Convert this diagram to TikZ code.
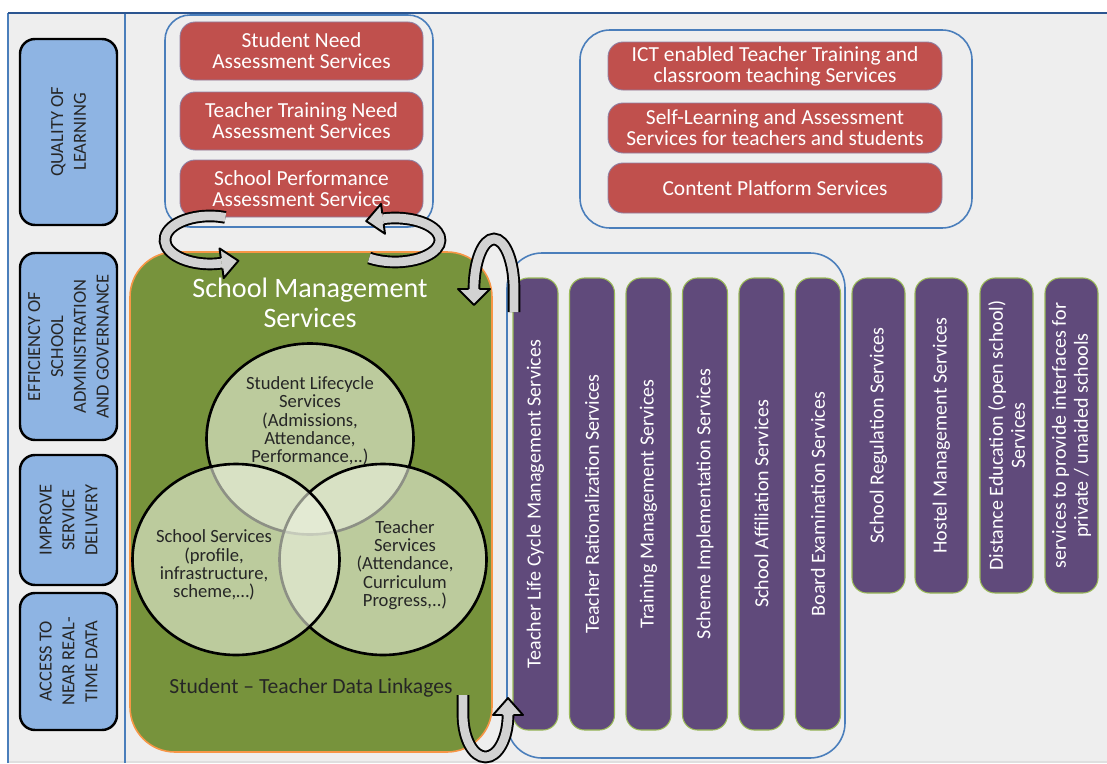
\documentclass[tikz,border=0pt]{standalone}
\usepackage{fontspec}
\setmainfont{Carlito}
\usetikzlibrary{positioning,shapes.geometric}

\definecolor{goalblue}{HTML}{8EB4E3}
\definecolor{svcred}{HTML}{C0504D}
\definecolor{framblue}{HTML}{4A7EBB}
\definecolor{topblue}{HTML}{2B5590}
\definecolor{mgmtgreen}{HTML}{77933C}
\definecolor{mgmtorange}{HTML}{F79646}
\definecolor{vennfill}{HTML}{EBF1DE}
\definecolor{svcpurple}{HTML}{604A7B}
\definecolor{colborder}{HTML}{9BBB59}
\definecolor{bggray}{HTML}{EEEEEE}
\definecolor{txtdark}{HTML}{262626}

\begin{document}
\begin{tikzpicture}[x=0.2mm,y=-0.2mm,
    goal/.style={draw=black,line width=1.4pt,fill=goalblue,rounded corners=3mm,rotate=90,
      minimum height=19.4mm,align=center,text=txtdark,inner sep=0pt,
      font=\fontsize{10.5}{13}\selectfont},
    redsvc/.style={draw=svcpurple!70,line width=0.5pt,fill=svcred,rounded corners=3mm,
      text=white,align=center,inner sep=0pt,font=\fontsize{12.2}{12}\selectfont},
    group/.style={draw=framblue,line width=0.9pt},
    colsvc/.style={draw=colborder,line width=0.6pt,fill=svcpurple,rounded corners=3mm,
      rotate=90,text=white,align=center,inner sep=0pt,font=\fontsize{11.4}{12.5}\selectfont},
    venn/.style={ellipse,draw=black,line width=1.5pt,fill=vennfill,fill opacity=0.6,
      minimum width=41.4mm,minimum height=38.2mm,inner sep=0pt},
    vtext/.style={align=center,text=txtdark,font=\fontsize{10.6}{10.4}\selectfont},
    band/.style={draw=black,line width=1.1pt,double=gray!35,double distance=5pt},
    tip/.style={fill=gray!35,draw=black,line width=1.1pt,line join=round}]

  \useasboundingbox (0,0) rectangle (1107,763);

  % frame
  \fill[bggray] (8,13) rectangle (1107,763);
  \draw[gray!25,line width=0.6pt] (8,762) -- (1107,762);
  \draw[framblue,line width=0.9pt] (8,763) -- (8,13);
  \draw[framblue,line width=0.9pt] (125,13) -- (125,763);
  \draw[topblue,line width=1.7pt] (8,13) -- (1107,13);

  % goals
  \node[goal,minimum width=37.2mm] (qol) at (68.5,132) {QUALITY OF\\LEARNING};
  \node[goal,minimum width=37.4mm] (eff) at (68.5,346.5) {EFFICIENCY OF\\SCHOOL\\ADMINISTRATION\\AND GOVERNANCE};
  \node[goal,minimum width=26mm] (isd) at (68.5,520) {IMPROVE\\SERVICE\\DELIVERY};
  \node[goal,minimum width=27.4mm] (acc) at (68.5,661.5) {ACCESS TO\\NEAR REAL-\\TIME DATA};

  % assessment services
  \draw[group,rounded corners=5mm] (165,15) rectangle (433,227);
  \node[redsvc,minimum width=48.6mm,minimum height=11.6mm] (sna) at (301.5,51) {Student Need\\Assessment Services};
  \node[redsvc,minimum width=48.6mm,minimum height=11.6mm] (ttn) at (301.5,121) {Teacher Training Need\\Assessment Services};
  \node[redsvc,minimum width=48.6mm,minimum height=11.4mm] (spa) at (301.5,188.5) {School Performance\\Assessment Services};

  % learning services
  \draw[group,rounded corners=6mm] (580,30) rectangle (972,228);
  \node[redsvc,minimum width=66.8mm,minimum height=9.6mm] (ict) at (775,66) {ICT enabled Teacher Training and\\classroom teaching Services};
  \node[redsvc,minimum width=66.8mm,minimum height=10mm] (sla) at (775,128) {Self-Learning and Assessment\\Services for teachers and students};
  \node[redsvc,minimum width=66.8mm,minimum height=10mm] (cps) at (775,188) {Content Platform Services};

  % school management
  \draw[draw=mgmtorange,fill=mgmtgreen,line width=0.9pt,rounded corners=9mm] (130,252) rectangle (492,752);
  \node[text=white,align=center,font=\fontsize{16}{17}\selectfont] (smstitle) at (310,303) {School Management\\Services};
  \node[venn] (slc) at (310,439) {};
  \node[venn] (tsv) at (383,559.5) {};
  \node[venn] (ssv) at (236,559.5) {};
  \node[vtext] (slctxt) at (310,421) {Student Lifecycle\\Services\\(Admissions,\\Attendance,\\Performance,..)};
  \node[vtext] (ssvtxt) at (214,565) {School Services\\(profile,\\infrastructure,\\scheme,…)};
  \node[vtext] (tsvtxt) at (405,565) {Teacher\\Services\\(Attendance,\\Curriculum\\Progress,..)};
  \node[text=txtdark,font=\fontsize{12.3}{13}\selectfont] (link) at (311,688) {Student – Teacher Data Linkages};

  % other services
  \draw[group,rounded corners=7mm] (507,253) rectangle (845,758);
  \foreach \x/\name/\txt in {535.5/tlc/{Teacher Life Cycle Management Services},
      592/trs/{Teacher Rationalization Services},
      648.5/tms/{Training Management Services},
      705/sis/{Scheme Implementation Services},
      761.5/sas/{School Affiliation Services},
      818/bes/{Board Examination Services}}
    \node[colsvc,minimum width=90.4mm,minimum height=9mm] (\name) at (\x,504) {\txt};
  \foreach \x/\name/\txt in {878.5/srs/{School Regulation Services},
      941.5/hms/{Hostel Management Services},
      1006.5/des/{Distance Education (open school)\\Services},
      1071.5/pus/{services to provide interfaces for\\private / unaided schools}}
    \node[colsvc,minimum width=63mm,minimum height=10.6mm] (\name) at (\x,435.5) {\txt};

  % loop arrows
  \draw[band] (225.4,217.4) arc[start angle=-70,end angle=-285,x radius=45,y radius=24];
  \filldraw[tip] (222.4,268.5) -- (223.7,278.1) -- (238.4,260.8) -- (219.5,248.4) -- (220.8,257.9);
  \draw[band] (369.2,258) arc[start angle=125,end angle=-105.5,x radius=45,y radius=22];
  \filldraw[tip] (383.7,224.2) -- (385,233.7) -- (366.2,221.1) -- (381,203.9) -- (382.3,213.4);
  \draw[band] (514,312) -- (514,289) arc[start angle=0,end angle=-180,x radius=20,y radius=50];
  \filldraw[tip] (468.6,289) -- (458,289) -- (474,305) -- (490,289) -- (479.4,289);
  \draw[band] (463,695) -- (463,715) arc[start angle=180,end angle=0,x radius=22.5,y radius=42];
  \filldraw[tip] (502.6,715) -- (493,715) -- (508,698) -- (523,715) -- (513.4,715);
\end{tikzpicture}
\end{document}
